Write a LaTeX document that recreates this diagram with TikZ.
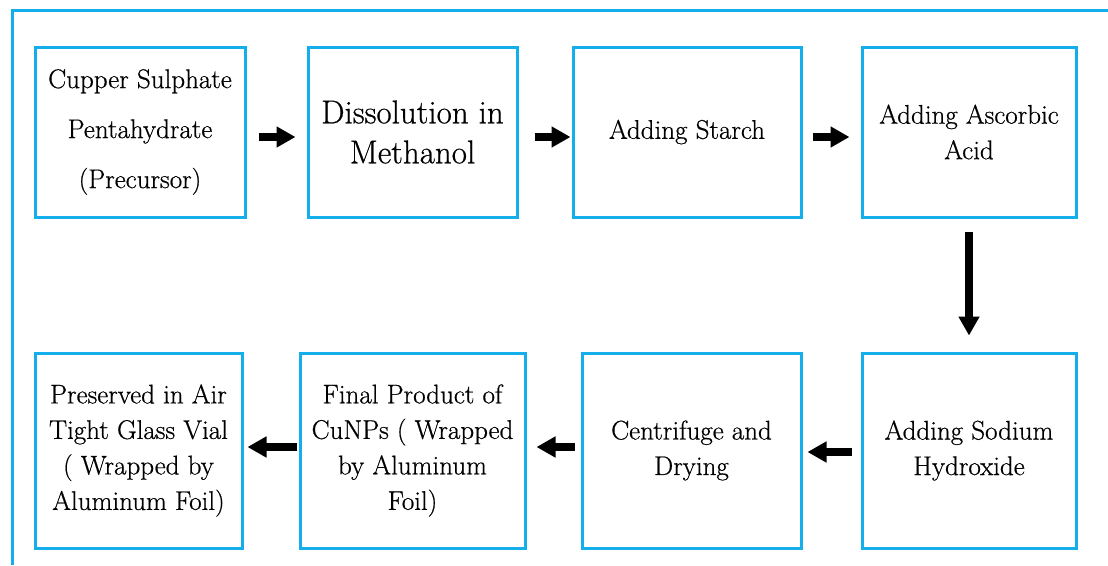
\documentclass[tikz,border=0pt]{standalone}
\usepackage{fontspec}
\setmainfont{Latin Modern Roman}[UprightFeatures={FakeBold=0.6}]
\usetikzlibrary{arrows.meta}
\definecolor{frameblue}{RGB}{20,174,234}
\tikzset{
  stepbox/.style={draw=frameblue, line width=3pt, rectangle, inner sep=2pt,
    align=center, text=black, font=\fontsize{27}{35.5}\selectfont},
  flow/.style={line width=7.5pt, -{Triangle[length=19pt,width=20pt]}, black},
  outline/.style={draw=frameblue, line width=3pt},
}
\begin{document}
\begin{tikzpicture}[x=1pt,y=-1pt]
\useasboundingbox (0,0) rectangle (1108,565);
% outer frame (top and left edges)
\draw[outline] (1108,10) -- (12,10) -- (12,565);

% top row
\node[stepbox, minimum width=210pt, minimum height=170pt,
      font=\fontsize{27}{50}\selectfont] (b1) at (140,132)
  {Cupper Sulphate\\Pentahydrate\\(Precursor)};
\node[stepbox, minimum width=209pt, minimum height=170pt,
      font=\fontsize{33}{40}\selectfont] (b2) at (412.5,132)
  {Dissolution in\\Methanol};
\node[stepbox, minimum width=228pt, minimum height=170pt] (b3) at (687,132)
  {Adding Starch};
\node[stepbox, minimum width=214pt, minimum height=170pt] (b4) at (969,132)
  {Adding Ascorbic\\Acid};

% bottom row
\node[stepbox, minimum width=214pt, minimum height=195pt] (b5) at (969,450.5)
  {Adding Sodium\\Hydroxide};
\node[stepbox, minimum width=219pt, minimum height=195pt] (b6) at (691.5,450.5)
  {Centrifuge and\\Drying};
\node[stepbox, minimum width=225pt, minimum height=195pt] (b7) at (412.5,450.5)
  {Final Product of\\CuNPs ( Wrapped\\by Aluminum\\Foil)};
\node[stepbox, minimum width=207pt, minimum height=195pt] (b8) at (138.5,450.5)
  {Preserved in Air\\Tight Glass Vial\\( Wrapped by\\Aluminum Foil)};

% connectors
\draw[flow, shorten <=12pt, shorten >=11pt] ([yshift=-5pt]b1.east) -- ([yshift=-5pt]b2.west);
\draw[flow, shorten <=16pt, shorten >=1pt] ([yshift=-5pt]b2.east) -- ([yshift=-5pt]b3.west);
\draw[flow, shorten <=10pt, shorten >=11pt] ([yshift=-5pt]b3.east) -- ([yshift=-5pt]b4.west);
\draw[flow, shorten <=13pt, shorten >=16pt] (b4.south) -- (b5.north);
\draw[flow, shorten <=9pt, shorten >=5pt] ([yshift=-1.5pt]b5.west) -- ([yshift=-1.5pt]b6.east);
\draw[flow, shorten <=6pt, shorten >=10pt] ([yshift=3.5pt]b6.west) -- ([yshift=3.5pt]b7.east);
\draw[flow, shorten <=2pt, shorten >=4pt] ([yshift=3.5pt]b7.west) -- ([yshift=3.5pt]b8.east);
\end{tikzpicture}
\end{document}
